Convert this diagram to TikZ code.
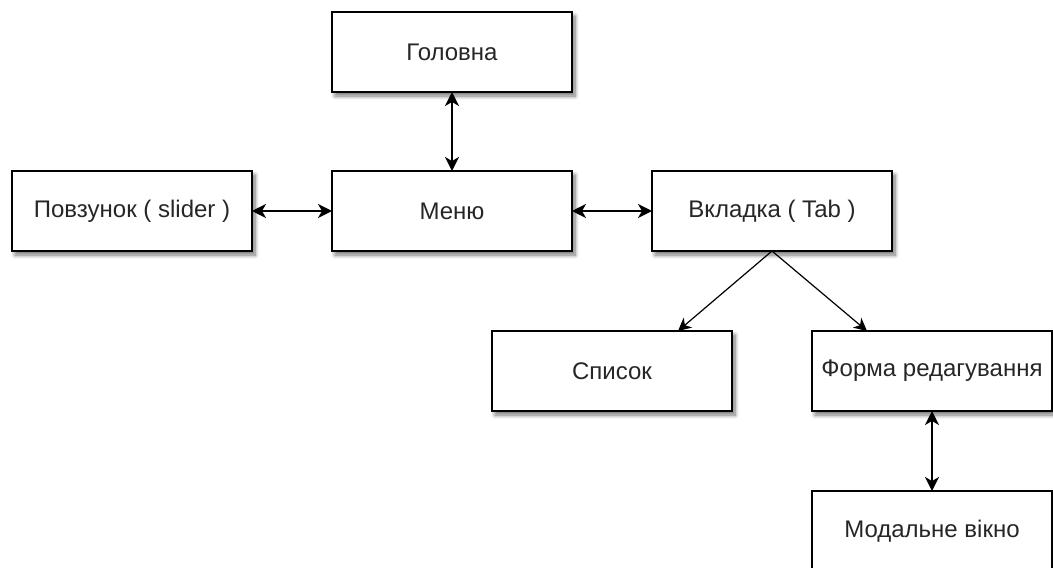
\documentclass[tikz,border=0pt]{standalone}
\usepackage{fontspec}
\setmainfont{Liberation Sans}
\usetikzlibrary{arrows.meta,shadows.blur}

\tikzset{
  box/.style={draw=black, line width=1.8pt, fill=white,
    minimum width=240pt, minimum height=80pt, inner sep=0pt, outer sep=0pt,
    font=\fontsize{24}{28}\selectfont, text=black!85,
    blur shadow={shadow xshift=3pt, shadow yshift=-4pt,
      shadow blur radius=4pt, shadow opacity=55, shadow blur steps=8}},
  tipbig/.style={},
  both/.style={line width=1.8pt, {Stealth[length=14pt,width=14pt,inset=4pt]}-{Stealth[length=14pt,width=14pt,inset=4pt]}},
  down/.style={line width=1.2pt, -{Stealth[length=13pt,width=13pt,inset=4pt]}}
}

\begin{document}
\begin{tikzpicture}[x=1pt, y=-1pt]
  \useasboundingbox (0,0) rectangle (1053,568);
  \begin{scope}
    \clip (0,0) rectangle (1053,568);

    \node[box] (home)   at (452,52)  {Головна};
    \node[box] (menu)   at (452,211) {Меню};
    \node[box] (slider) at (132,211) {Повзунок ( slider )};
    \node[box] (tab)    at (772,211) {Вкладка ( Tab )};
    \node[box] (list)   at (612,371) {Список};
    \node[box] (form)   at (932,371) {Форма редагування};
    \node[box] (modal)  at (932,531) {Модальне вікно};

    \draw[both] (home.south) -- (menu.north);
    \draw[both] (slider.east) -- (menu.west);
    \draw[both] (menu.east) -- (tab.west);
    \draw[down] (tab.south) -- ([xshift=66pt]list.north);
    \draw[down] (tab.south) -- ([xshift=-65pt]form.north);
    \draw[both] (form.south) -- (modal.north);
  \end{scope}
\end{tikzpicture}
\end{document}
